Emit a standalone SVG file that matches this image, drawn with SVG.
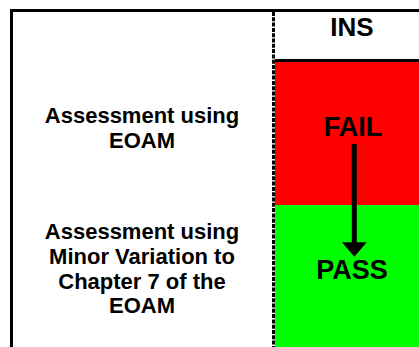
<svg xmlns="http://www.w3.org/2000/svg" width="419" height="347" viewBox="0 0 419 347">
<style>
.t{font-family:"Liberation Sans",Arial,sans-serif;font-weight:bold;fill:#000;text-anchor:middle}
.s{font-size:22px}
.b{font-size:27px}
</style>
<rect x="0" y="0" width="419" height="347" fill="#fff"/>
<g id="fail">
<rect x="275" y="62" width="144" height="143" fill="#ff0000"/>
<text class="t b" x="353" y="136">FAIL</text>
</g>
<g id="pass">
<rect x="275" y="205" width="144" height="142" fill="#00ff00"/>
<text class="t b" x="352" y="279">PASS</text>
</g>
<g id="frame">
<path d="M11.5 347V10.5H419" fill="none" stroke="#000" stroke-width="3"/>
<path d="M275 60.5H419" fill="none" stroke="#000" stroke-width="3"/>
<path d="M273.5 12V347" fill="none" stroke="#000" stroke-width="3" stroke-dasharray="4 1.3"/>
</g>
<g id="ins">
<text class="t" style="font-size:26px" x="352" y="36">INS</text>
</g>
<g id="eoam">
<text class="t s" x="142" y="123">Assessment using</text>
<text class="t s" x="142" y="148">EOAM</text>
</g>
<g id="minor">
<text class="t s" x="142" y="239">Assessment using</text>
<text class="t s" x="142" y="263.8">Minor Variation to</text>
<text class="t s" x="142" y="288.6">Chapter 7 of the</text>
<text class="t s" x="142" y="313.4">EOAM</text>
</g>
<g id="connectors">
<path d="M354.3 144V244" stroke="#000" stroke-width="5" fill="none"/>
<path d="M342 242.3H366.7L354.3 256.7Z" fill="#000"/>
</g>
</svg>
